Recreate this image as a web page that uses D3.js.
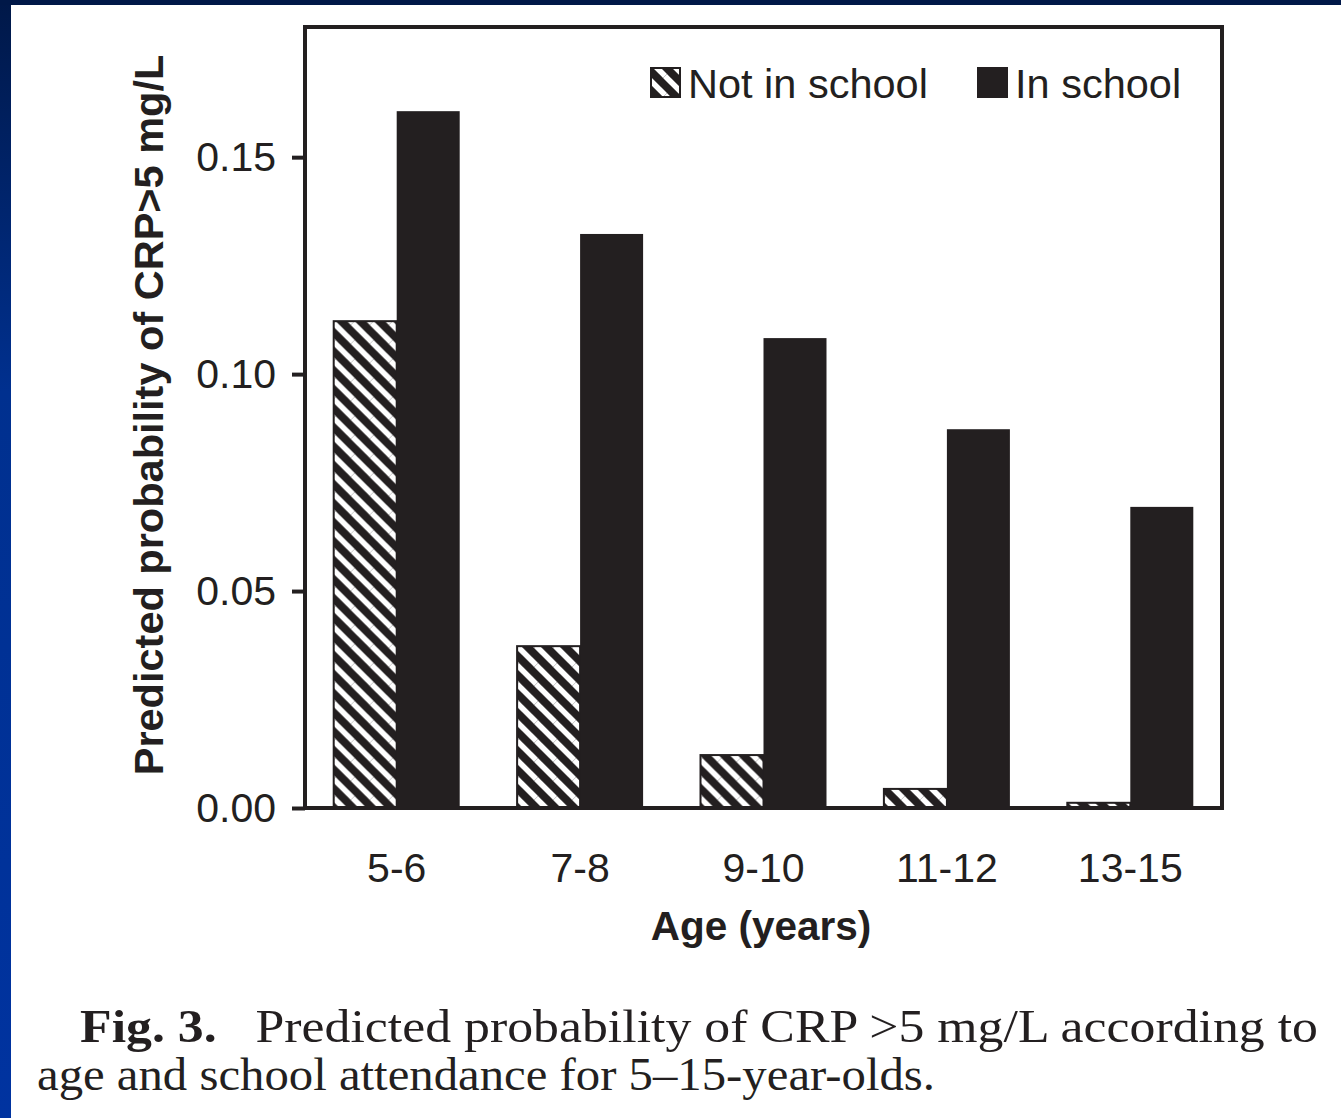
<!DOCTYPE html>
<html>
<head>
<meta charset="utf-8">
<script src="https://cdn.jsdelivr.net/npm/d3@7"></script>
<style>
  html, body { margin: 0; padding: 0; background: #ffffff; }
  svg { display: block; }
</style>
</head>
<body>
<script>
// Age groups and predicted probabilities of CRP > 5 mg/L
const ageGroups = ["5-6", "7-8", "9-10", "11-12", "13-15"];
const notInSchool = [0.1122, 0.0373, 0.0122, 0.0044, 0.0012];
const inSchool = [0.1606, 0.1323, 0.1083, 0.0873, 0.0694];
const seriesNames = ["Not in school", "In school"];
const yTicks = [0.00, 0.05, 0.10, 0.15];

const W = 1341, H = 1118;
const ink = "#231f20";
const sans = "Liberation Sans, Arial, sans-serif";

const svg = d3.select("body").append("svg")
  .attr("width", W).attr("height", H);

const defs = svg.append("defs");

// Slide frame gradient (navy to blue)
const grad = defs.append("linearGradient")
  .attr("id", "frameGrad").attr("x1", 0).attr("y1", 0).attr("x2", 0).attr("y2", 1);
grad.append("stop").attr("offset", "0%").attr("stop-color", "#001848");
grad.append("stop").attr("offset", "35%").attr("stop-color", "#00308f");
grad.append("stop").attr("offset", "100%").attr("stop-color", "#0033a0");

// Diagonal hatch for the "not in school" bars
const hatch = defs.append("pattern")
  .attr("id", "hatch").attr("patternUnits", "userSpaceOnUse")
  .attr("width", 19).attr("height", 19);
hatch.append("rect").attr("width", 19).attr("height", 19).attr("fill", ink);
hatch.selectAll("line").data([[-19, 0, 0, 19], [0, 0, 19, 19], [0, -19, 19, 0], [19, 0, 38, 19], [0, 19, 19, 38]])
  .join("line")
  .attr("x1", d => d[0]).attr("y1", d => d[1]).attr("x2", d => d[2]).attr("y2", d => d[3])
  .attr("stroke", "#ffffff").attr("stroke-width", 5.5);

// Background and frame
svg.append("rect").attr("width", W).attr("height", H).attr("fill", "#ffffff");
svg.append("rect").attr("x", 0).attr("y", 0).attr("width", 11).attr("height", H).attr("fill", "url(#frameGrad)");
svg.append("rect").attr("x", 0).attr("y", 0).attr("width", W).attr("height", 5).attr("fill", "#001848");

// Plot area
const plotLeft = 305, plotRight = 1222, plotTop = 27, plotBottom = 808;

const x0 = d3.scaleBand().domain(ageGroups).range([plotLeft, plotRight])
  .paddingInner(0.313).paddingOuter(0.1565);
const x1 = d3.scaleBand().domain(seriesNames).range([0, x0.bandwidth()]);
const y = d3.scaleLinear().domain([0, 0.18]).range([plotBottom, plotTop]);

const rows = ageGroups.map((g, i) => ({ group: g, values: [
  { key: seriesNames[0], value: notInSchool[i] },
  { key: seriesNames[1], value: inSchool[i] }
]}));

const fills = { "Not in school": "url(#hatch)", "In school": ink };

const groups = svg.append("g").selectAll("g").data(rows).join("g")
  .attr("transform", d => `translate(${x0(d.group)},0)`);

groups.selectAll("rect").data(d => d.values).join("rect")
  .attr("x", d => x1(d.key))
  .attr("y", d => y(d.value))
  .attr("width", x1.bandwidth())
  .attr("height", d => y(0) - y(d.value))
  .attr("fill", d => fills[d.key])
  .attr("stroke", ink)
  .attr("stroke-width", d => d.key === "Not in school" ? 2 : 0);

// Plot frame
svg.append("rect")
  .attr("x", plotLeft).attr("y", plotTop)
  .attr("width", plotRight - plotLeft).attr("height", plotBottom - plotTop)
  .attr("fill", "none").attr("stroke", ink).attr("stroke-width", 4);

// Y axis
const yAxis = svg.append("g")
  .attr("transform", `translate(${plotLeft},0)`)
  .call(d3.axisLeft(y).tickValues(yTicks).tickFormat(d3.format(".2f")).tickSize(13).tickPadding(16));
yAxis.select(".domain").remove();
yAxis.selectAll(".tick line").attr("stroke", ink).attr("stroke-width", 4);
yAxis.selectAll(".tick text")
  .attr("font-family", sans).attr("font-size", 41).attr("fill", ink);

// X axis labels
const xAxis = svg.append("g")
  .attr("transform", `translate(0,${plotBottom})`)
  .call(d3.axisBottom(x0).tickSize(0).tickPadding(45));
xAxis.select(".domain").remove();
xAxis.selectAll(".tick text")
  .attr("font-family", sans).attr("font-size", 41).attr("fill", ink);

// Axis titles
svg.append("text")
  .attr("x", 761).attr("y", 940)
  .attr("text-anchor", "middle")
  .attr("font-family", sans)
  .attr("font-weight", "bold").attr("font-size", 40.5).attr("fill", ink)
  .text("Age (years)");

svg.append("text")
  .attr("transform", `translate(163,415) rotate(-90)`)
  .attr("text-anchor", "middle")
  .attr("font-family", sans)
  .attr("font-weight", "bold").attr("font-size", 41.5).attr("fill", ink)
  .text("Predicted probability of CRP>5 mg/L");

// Legend
const legendItems = [
  { name: seriesNames[0], x: 651, tx: 688 },
  { name: seriesNames[1], x: 978, tx: 1015 }
];
const legend = svg.append("g").selectAll("g").data(legendItems).join("g");
legend.append("rect")
  .attr("x", d => d.x).attr("y", 68).attr("width", 29).attr("height", 29)
  .attr("fill", d => fills[d.name]).attr("stroke", ink).attr("stroke-width", 2);
legend.append("text")
  .attr("x", d => d.tx).attr("y", 98)
  .attr("font-family", sans)
  .attr("font-size", 41.5).attr("fill", ink)
  .text(d => d.name);

// Caption
const caption = svg.append("g")
  .attr("font-family", "Liberation Serif, Times New Roman, serif")
  .attr("font-size", 47).attr("fill", ink);
const line1 = caption.append("text").attr("x", 80).attr("y", 1042)
  .attr("textLength", 1238).attr("lengthAdjust", "spacingAndGlyphs");
line1.append("tspan").attr("font-weight", "bold").text("Fig. 3.");
line1.append("tspan").text("\u00a0\u00a0 Predicted probability of CRP >5 mg/L according to");
caption.append("text").attr("x", 37).attr("y", 1090)
  .attr("textLength", 898).attr("lengthAdjust", "spacingAndGlyphs")
  .text("age and school attendance for 5\u201315-year-olds.");
</script>
</body>
</html>
